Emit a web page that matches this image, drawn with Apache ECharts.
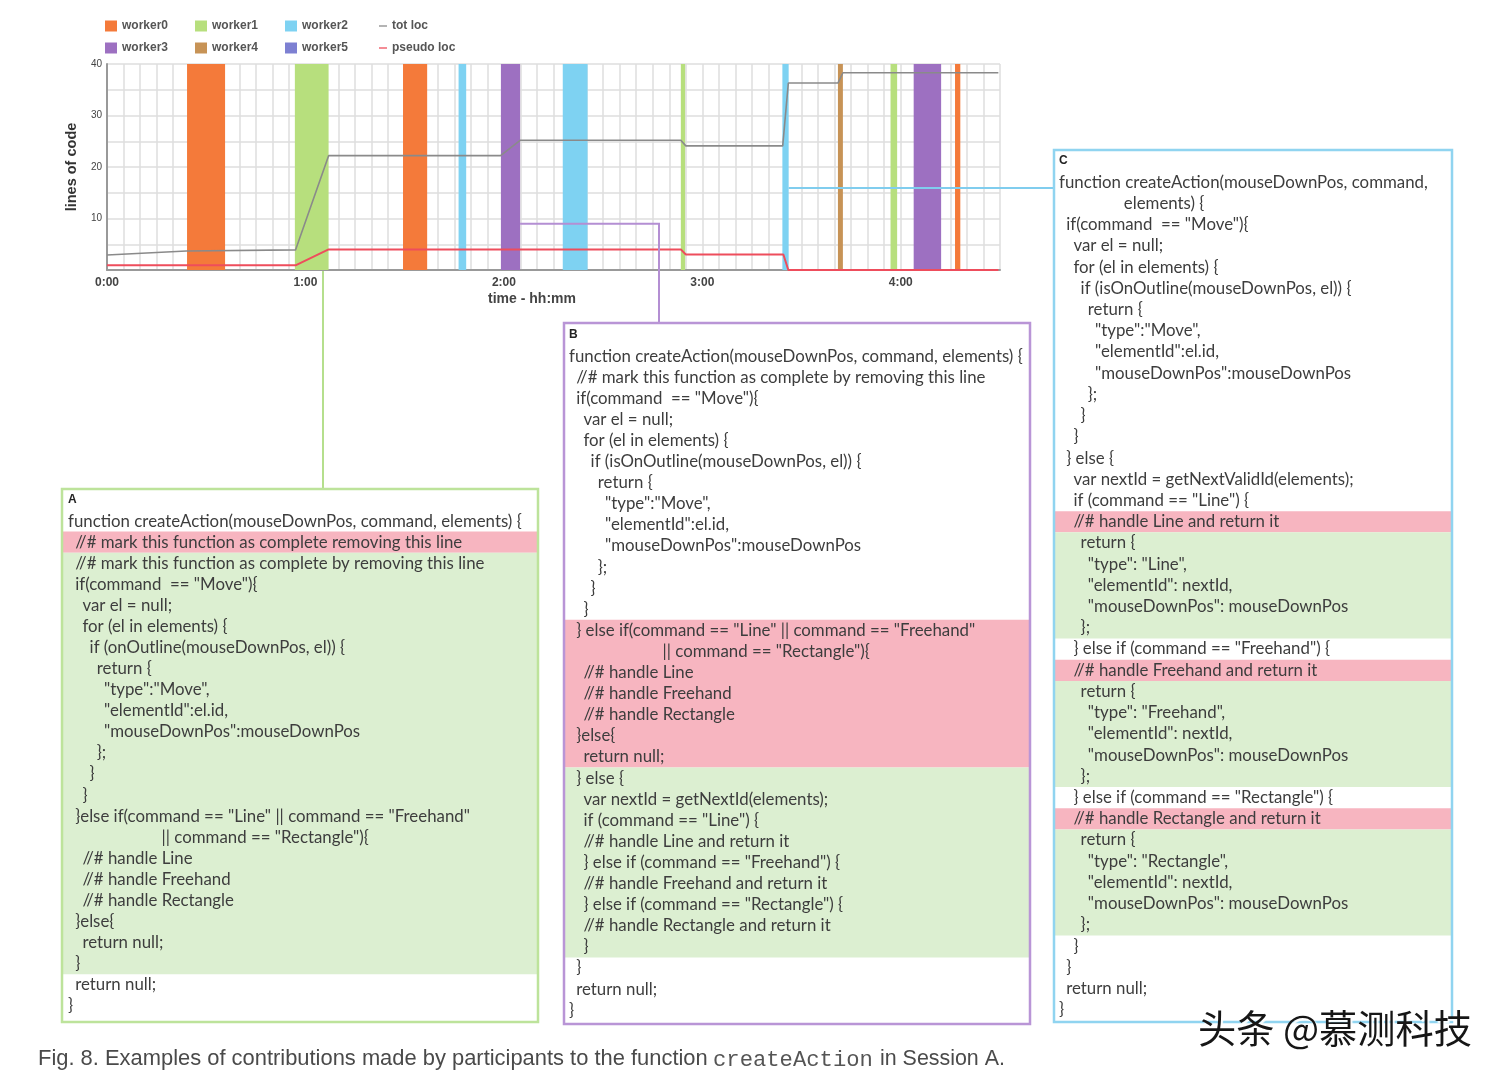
<!DOCTYPE html>
<html><head><meta charset="utf-8">
<script src="https://cdn.jsdelivr.net/npm/echarts@6/dist/echarts.min.js"></script>
<style>html,body{margin:0;padding:0;background:#fff}#c{width:1503px;height:1080px}</style>
</head><body><div id="c"></div>
<script>
// ---------------- data ----------------
const workerNames = ['worker0', 'worker1', 'worker2', 'worker3', 'worker4', 'worker5'];
// activity spans in minutes [start, end]
const worker0Spans = [[24.2, 35.7], [89.5, 96.8], [256.4, 258.0]];
const worker1Spans = [[56.8, 67.0], [173.5, 174.8], [236.9, 238.9]];
const worker2Spans = [[106.3, 108.6], [137.8, 145.3], [204.2, 206.1]];
const worker3Spans = [[119.1, 124.9], [243.9, 252.2]];
const worker4Spans = [[221.0, 222.5]];
const worker5Spans = [];
// lines of code over time [minute, loc]
const totLoc = [[0, 2.9], [24, 3.7], [57, 3.9], [67, 22.2], [119, 22.2], [125, 25.2], [173.5, 25.2], [175, 24.1], [204.3, 24.1], [206, 36.3], [221, 36.3], [222.5, 38.3], [269.5, 38.3]];
const pseudoLoc = [[0, 0.9], [57, 0.9], [67, 4.0], [173.5, 4.0], [175, 3.0], [204.5, 3.0], [206, 0], [269.5, 0]];
const xTickValues = [0, 60, 120, 180, 240];
const xTickLabels = ['0:00', '1:00', '2:00', '3:00', '4:00'];
const yTickLabels = [10, 20, 30, 40];

const codeA = [
  'function createAction(mouseDownPos, command, elements) {',
  ' //# mark this function as complete removing this line',
  ' //# mark this function as complete by removing this line',
  ' if(command  == "Move"){',
  '  var el = null;',
  '  for (el in elements) {',
  '   if (onOutline(mouseDownPos, el)) {',
  '    return {',
  '     "type":"Move",',
  '     "elementId":el.id,',
  '     "mouseDownPos":mouseDownPos',
  '    };',
  '   }',
  '  }',
  ' }else if(command == "Line" || command == "Freehand"',
  '             || command == "Rectangle"){',
  '  //# handle Line',
  '  //# handle Freehand',
  '  //# handle Rectangle',
  ' }else{',
  '  return null;',
  ' }',
  ' return null;',
  '}'
];
const marksA = ['', 'p', 'g', 'g', 'g', 'g', 'g', 'g', 'g', 'g', 'g', 'g', 'g', 'g', 'g', 'g', 'g', 'g', 'g', 'g', 'g', 'g', '', ''];

const codeB = [
  'function createAction(mouseDownPos, command, elements) {',
  ' //# mark this function as complete by removing this line',
  ' if(command  == "Move"){',
  '  var el = null;',
  '  for (el in elements) {',
  '   if (isOnOutline(mouseDownPos, el)) {',
  '    return {',
  '     "type":"Move",',
  '     "elementId":el.id,',
  '     "mouseDownPos":mouseDownPos',
  '    };',
  '   }',
  '  }',
  ' } else if(command == "Line" || command == "Freehand"',
  '             || command == "Rectangle"){',
  '  //# handle Line',
  '  //# handle Freehand',
  '  //# handle Rectangle',
  ' }else{',
  '  return null;',
  ' } else {',
  '  var nextId = getNextId(elements);',
  '  if (command == "Line") {',
  '  //# handle Line and return it',
  '  } else if (command == "Freehand") {',
  '  //# handle Freehand and return it',
  '  } else if (command == "Rectangle") {',
  '  //# handle Rectangle and return it',
  '  }',
  ' }',
  ' return null;',
  '}'
];
const marksB = ['', '', '', '', '', '', '', '', '', '', '', '', '', 'p', 'p', 'p', 'p', 'p', 'p', 'p', 'g', 'g', 'g', 'g', 'g', 'g', 'g', 'g', 'g', '', '', ''];

const codeC = [
  'function createAction(mouseDownPos, command,',
  '         elements) {',
  ' if(command  == "Move"){',
  '  var el = null;',
  '  for (el in elements) {',
  '   if (isOnOutline(mouseDownPos, el)) {',
  '    return {',
  '     "type":"Move",',
  '     "elementId":el.id,',
  '     "mouseDownPos":mouseDownPos',
  '    };',
  '   }',
  '  }',
  ' } else {',
  '  var nextId = getNextValidId(elements);',
  '  if (command == "Line") {',
  '  //# handle Line and return it',
  '   return {',
  '    "type": "Line",',
  '    "elementId": nextId,',
  '    "mouseDownPos": mouseDownPos',
  '   };',
  '  } else if (command == "Freehand") {',
  '  //# handle Freehand and return it',
  '   return {',
  '    "type": "Freehand",',
  '    "elementId": nextId,',
  '    "mouseDownPos": mouseDownPos',
  '   };',
  '  } else if (command == "Rectangle") {',
  '  //# handle Rectangle and return it',
  '   return {',
  '    "type": "Rectangle",',
  '    "elementId": nextId,',
  '    "mouseDownPos": mouseDownPos',
  '   };',
  '  }',
  ' }',
  ' return null;',
  '}'
];
const marksC = ['', '', '', '', '', '', '', '', '', '', '', '', '', '', '', '', 'p', 'g', 'g', 'g', 'g', 'g', '', 'p', 'g', 'g', 'g', 'g', 'g', '', 'p', 'g', 'g', 'g', 'g', 'g', '', '', '', ''];

const captionMain = 'Fig. 8. Examples of contributions made by participants to the function';
const captionCode = 'createAction';
const captionTail = 'in Session A.';
const watermark = '头条 @慕测科技';

// ---------------- styles / layout ----------------
const workerColors = ['#f47a3a', '#b7df7d', '#7ed2f2', '#9d70c1', '#c79356', '#7d80d2'];
const PINK = '#f7b5c0', GREEN = '#dcefd1';
const CODE_FONT = 'Lato';
const mctx = document.createElement('canvas').getContext('2d');
function fit(text, family, weight, target) {
  mctx.font = weight + ' 100px "' + family + '"';
  return 100 * target / mctx.measureText(text).width;
}
const codeSize = fit(codeA[0], CODE_FONT, 'normal', 454);
const INDENT = 7.2;

const chart = echarts.init(document.getElementById('c'));
const spans = [worker0Spans, worker1Spans, worker2Spans, worker3Spans, worker4Spans, worker5Spans];

function bandItem(params, api) {
  const p0 = api.coord([api.value(0), 40]);
  const p1 = api.coord([api.value(1), 0]);
  return { type: 'rect', shape: { x: p0[0], y: p0[1], width: p1[0] - p0[0], height: p1[1] - p0[1] }, style: { fill: api.visual('color') } };
}

const series = workerNames.map((n, i) => ({
  name: n, type: 'custom', renderItem: bandItem,
  data: spans[i].map(s => [s[0], s[1], 0]),
  encode: { x: [0, 1], y: 2 },
  itemStyle: { color: workerColors[i] }, z: 2
}));
series.push({ name: 'tot loc', type: 'line', data: totLoc, symbol: 'none', showSymbol: false,
  lineStyle: { color: '#8a8a8a', width: 1.6 }, itemStyle: { color: '#8a8a8a' }, z: 5 });
series.push({ name: 'pseudo loc', type: 'line', data: pseudoLoc, symbol: 'none', showSymbol: false,
  lineStyle: { color: '#ee4d5c', width: 2 }, itemStyle: { color: '#ee4d5c' }, z: 6 });

const DASH = 'path://M0,0 L10,0 L10,1.6 L0,1.6 Z';
const legendBase = {
  orient: 'vertical', top: 20, itemWidth: 12, itemHeight: 11, itemGap: 10,
  textStyle: { fontSize: 12, fontWeight: 'bold', color: '#555', fontFamily: 'Liberation Sans' },
  selectedMode: false, padding: 0
};

chart.setOption({
  animation: false,
  backgroundColor: '#fff',
  grid: { left: 107, right: 503, top: 64, bottom: 810, containLabel: false },
  legend: [
    Object.assign({}, legendBase, { left: 105, data: [{ name: 'worker0', icon: 'rect' }, { name: 'worker3', icon: 'rect' }] }),
    Object.assign({}, legendBase, { left: 195, data: [{ name: 'worker1', icon: 'rect' }, { name: 'worker4', icon: 'rect' }] }),
    Object.assign({}, legendBase, { left: 285, data: [{ name: 'worker2', icon: 'rect' }, { name: 'worker5', icon: 'rect' }] }),
    Object.assign({}, legendBase, { left: 379, itemWidth: 8, data: [{ name: 'tot loc', icon: DASH }, { name: 'pseudo loc', icon: DASH }] })
  ],
  xAxis: {
    type: 'value', min: 0, max: 270, interval: 5,
    axisLine: { show: true, lineStyle: { color: '#999', width: 2 } },
    axisTick: { show: false },
    axisLabel: {
      formatter: v => { const i = xTickValues.indexOf(Math.round(v)); return i >= 0 ? xTickLabels[i] : ''; },
      fontSize: 12, fontWeight: 'bold', color: '#444', margin: 7, fontFamily: 'Liberation Sans'
    },
    splitLine: { show: true, lineStyle: { color: '#dedede', width: 1.5 } },
    name: 'time - hh:mm', nameLocation: 'middle', nameGap: 22,
    nameTextStyle: { fontSize: 14, fontWeight: 'bold', color: '#444', fontFamily: 'Liberation Sans', padding: [0, 43, 0, 0] }
  },
  yAxis: {
    type: 'value', min: 0, max: 40, interval: 5,
    axisLine: { show: true, lineStyle: { color: '#999', width: 2 } },
    axisTick: { show: false },
    axisLabel: {
      formatter: v => yTickLabels.indexOf(Math.round(v)) >= 0 ? String(Math.round(v)) : '',
      fontSize: 10, color: '#444', margin: 5, fontFamily: 'Liberation Sans'
    },
    splitLine: { show: true, lineStyle: { color: '#dedede', width: 1.5 } },
    name: 'lines of code', nameLocation: 'middle', nameGap: 26, nameRotate: 90,
    nameTextStyle: { fontSize: 14.5, fontWeight: 'bold', color: '#333', fontFamily: 'Liberation Sans' }
  },
  series: series
});

// ---------------- code boxes ----------------
function buildBox(box, label, lines, marks) {
  const els = [];
  els.push({ type: 'rect', shape: { x: box.x, y: box.y, width: box.w, height: box.h }, style: { fill: '#fff' }, z: 10 });
  let i = 0;
  while (i < lines.length) {
    const m = marks[i]; let j = i;
    while (j + 1 < lines.length && marks[j + 1] === m) j++;
    if (m) {
      const y0 = box.firstY + (i + 1) * box.lh - box.lh / 2;
      const y1 = box.firstY + (j + 1) * box.lh + box.lh / 2;
      els.push({ type: 'rect', shape: { x: box.x + 1, y: y0, width: box.w - 2, height: y1 - y0 }, style: { fill: m === 'p' ? PINK : GREEN }, z: 11 });
    }
    i = j + 1;
  }
  els.push({ type: 'rect', shape: { x: box.x, y: box.y, width: box.w, height: box.h }, style: { fill: 'none', stroke: box.color, lineWidth: 2.5 }, z: 13 });
  els.push({ type: 'text', x: box.textX, y: box.firstY, style: { text: label, fontSize: 12, fontWeight: 'bold', fontFamily: 'Liberation Sans', fill: '#222', verticalAlign: 'middle' }, z: 12 });
  lines.forEach((ln, k) => {
    const t = ln.replace(/^ +/, '');
    const n = ln.length - t.length;
    els.push({ type: 'text', x: box.textX + n * INDENT, y: box.firstY + (k + 1) * box.lh,
      style: { text: t, fontSize: codeSize, fontFamily: CODE_FONT, fill: '#3d3d3d', verticalAlign: 'middle' }, z: 12 });
  });
  return els;
}

const boxA = { x: 62, y: 489, w: 476, h: 533, textX: 68, firstY: 500, lh: 21.08, color: '#bde39b' };
const boxB = { x: 564, y: 323, w: 466, h: 701, textX: 569, firstY: 335, lh: 21.1, color: '#b995d6' };
const boxC = { x: 1054, y: 150, w: 398, h: 872, textX: 1059, firstY: 161, lh: 21.22, color: '#90d4f0' };

const pG = chart.convertToPixel({ gridIndex: 0 }, [65.3, 0]);
const pB0 = chart.convertToPixel({ gridIndex: 0 }, [124.9, 9]);
const pB1 = chart.convertToPixel({ gridIndex: 0 }, [166.9, 9]);
const pC0 = chart.convertToPixel({ gridIndex: 0 }, [206.1, 15.9]);

const graphics = [];
graphics.push({ type: 'polyline', shape: { points: [[pG[0], pG[1] + 1], [pG[0], boxA.y]] }, style: { stroke: '#b5df8d', lineWidth: 2, fill: null }, z: 9 });
graphics.push({ type: 'polyline', shape: { points: [pB0, pB1, [pB1[0], boxB.y]] }, style: { stroke: '#b48fd3', lineWidth: 2, fill: null }, z: 9 });
graphics.push({ type: 'polyline', shape: { points: [pC0, [boxC.x, pC0[1]]] }, style: { stroke: '#80cdee', lineWidth: 2, fill: null }, z: 9 });
graphics.push(...buildBox(boxA, 'A', codeA, marksA));
graphics.push(...buildBox(boxB, 'B', codeB, marksB));
graphics.push(...buildBox(boxC, 'C', codeC, marksC));

const capSize = fit(captionMain, 'Liberation Sans', 'normal', 670);
const monoSize = fit(captionCode, 'Liberation Mono', 'normal', 160);
const tailSize = fit(captionTail, 'Liberation Sans', 'normal', 125);
graphics.push({ type: 'text', x: 38, y: 1059, style: { text: captionMain, fontSize: capSize, fontFamily: 'Liberation Sans', fill: '#4a4a4a', verticalAlign: 'middle' }, z: 20 });
graphics.push({ type: 'text', x: 713, y: 1060, style: { text: captionCode, fontSize: monoSize, fontFamily: 'Liberation Mono', fill: '#555', verticalAlign: 'middle' }, z: 20 });
graphics.push({ type: 'text', x: 880, y: 1059, style: { text: captionTail, fontSize: tailSize, fontFamily: 'Liberation Sans', fill: '#4a4a4a', verticalAlign: 'middle' }, z: 20 });

const wmSize = fit(watermark, 'Noto Sans CJK SC', 'normal', 274);
graphics.push({ type: 'text', x: 1198, y: 1028, style: { text: watermark, fontSize: wmSize, fontFamily: 'Noto Sans CJK SC', fill: '#161616', verticalAlign: 'middle',
  textShadowColor: 'rgba(255,255,255,0.95)', textShadowOffsetX: 2, textShadowOffsetY: 2, textShadowBlur: 1 }, z: 30 });

chart.setOption({ graphic: graphics });
</script></body></html>
